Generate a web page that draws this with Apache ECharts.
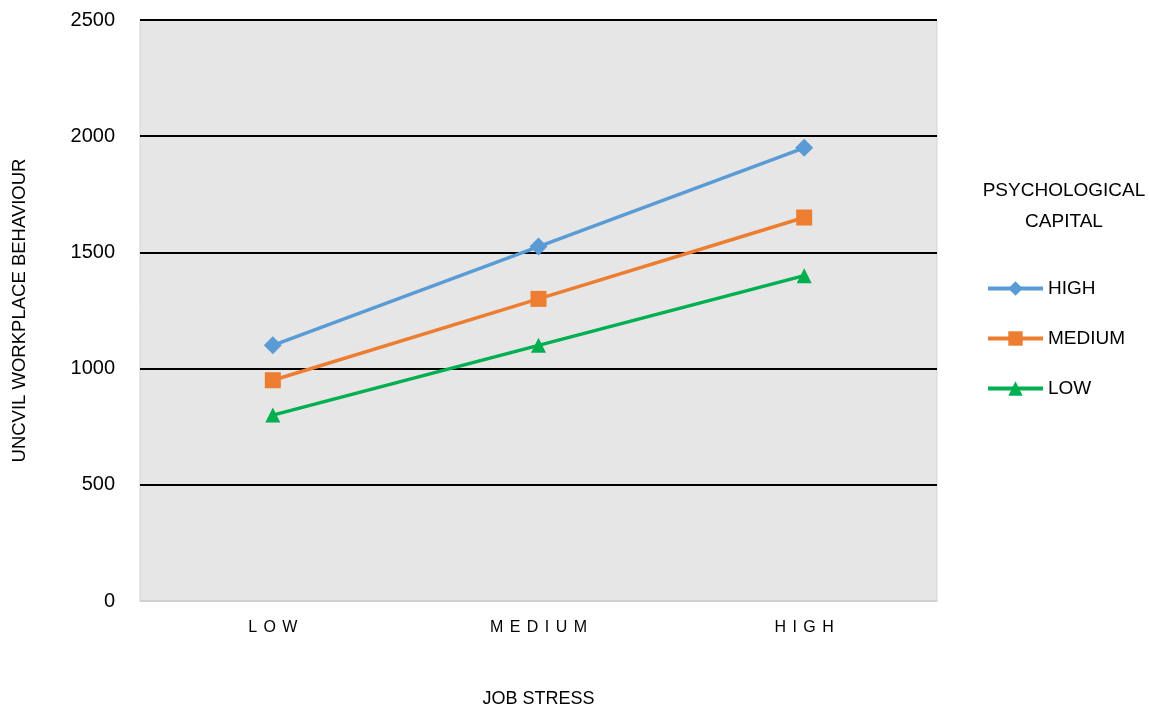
<!DOCTYPE html>
<html><head><meta charset="utf-8">
<script src="https://cdn.jsdelivr.net/npm/echarts@6/dist/echarts.min.js"></script>
<style>html,body{margin:0;padding:0;background:#fff}#c{width:1149px;height:707px}</style>
</head><body><div id="c"></div>
<script>
const categories = ['LOW', 'MEDIUM', 'HIGH'];
const highPC = [1100, 1525, 1950];
const mediumPC = [950, 1300, 1650];
const lowPC = [800, 1100, 1400];
const seriesNames = ['HIGH', 'MEDIUM', 'LOW'];
const yTicks = [0, 500, 1000, 1500, 2000, 2500];

const FONT = '"Liberation Sans", Arial, sans-serif';
const chart = echarts.init(document.getElementById('c'), null, {renderer: 'canvas'});
const mk = (name, data, color, symbol, size) => ({
  name, type: 'line', data, symbol, symbolSize: size,
  lineStyle: {color, width: 3.5}, itemStyle: {color},
  emphasis: {disabled: true}, animation: false
});
chart.setOption({
  animation: false,
  backgroundColor: '#fff',
  title: {
    text: 'PSYCHOLOGICAL\nCAPITAL', left: 1059, top: 170, textAlign: 'center',
    textStyle: {fontFamily: FONT, fontSize: 19, fontWeight: 'normal', color: '#000', lineHeight: 31, align: 'center'}
  },
  legend: {
    orient: 'vertical', left: 981, top: 274, itemWidth: 55, itemHeight: 18, itemGap: 31,
    data: seriesNames,
    lineStyle: {width: 4},
    textStyle: {fontFamily: FONT, fontSize: 19, color: '#000'}
  },
  grid: {left: 140, right: 212, top: 20, bottom: 106, outerBoundsMode: 'none', containLabel: false,
    show: true, backgroundColor: '#e6e6e6', borderColor: '#d4d4d4', borderWidth: 1},
  xAxis: {
    type: 'category', data: categories, boundaryGap: true,
    name: 'JOB STRESS', nameLocation: 'middle', nameGap: 89,
    nameTextStyle: {fontFamily: FONT, fontSize: 18, color: '#000'},
    axisLine: {show: true, lineStyle: {color: '#d0d0d0', width: 1.5}},
    axisTick: {show: false},
    axisLabel: {fontFamily: FONT, fontSize: 16, color: '#000', margin: 19,
      formatter: v => v.split('').join('\u2009\u2009')}
  },
  yAxis: {
    type: 'value', min: 0, max: 2500, interval: 500,
    name: 'UNCVIL WORKPLACE BEHAVIOUR', nameLocation: 'middle', nameGap: 111, nameRotate: 90,
    nameTextStyle: {fontFamily: FONT, fontSize: 18.5, color: '#000'},
    axisLine: {show: false}, axisTick: {show: false},
    axisLabel: {fontFamily: FONT, fontSize: 20, color: '#000', margin: 25,
      formatter: v => yTicks.includes(v) ? String(v) : ''},
    splitLine: {show: true, lineStyle: {color: ['#d0d0d0', '#000', '#000', '#000', '#000', '#000'], width: 2}}
  },
  series: [
    mk(seriesNames[0], highPC, '#5B9BD5', 'diamond', 18),
    mk(seriesNames[1], mediumPC, '#ED7D31', 'rect', 16),
    mk(seriesNames[2], lowPC, '#00B050', 'triangle', 15)
  ]
});
</script></body></html>
